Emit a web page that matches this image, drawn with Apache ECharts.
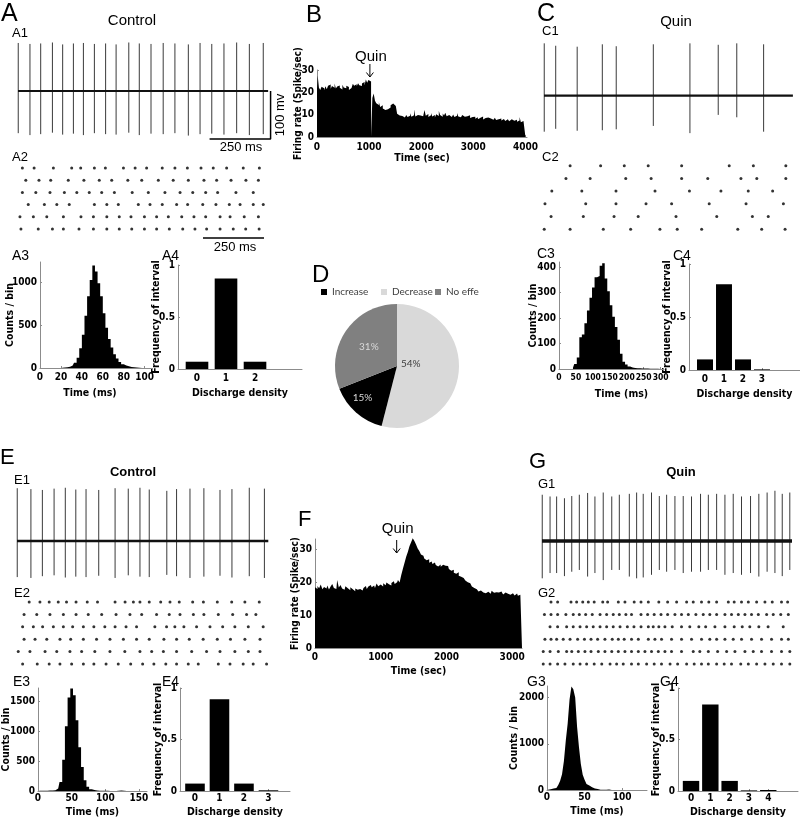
<!DOCTYPE html>
<html><head><meta charset="utf-8">
<script src="https://cdn.jsdelivr.net/npm/echarts@6/dist/echarts.min.js"></script>
<style>html,body{margin:0;padding:0;background:#fff}#c{width:800px;height:821px}</style>
</head><body><div id="c"></div>
<script>
// ================= DATA =================
// A1 (Control) spike train, ms / mV
const a1SpikeMs   = [1,49,93,141,183,227,268,313,359,402,454,497,545,595,643,698,746,794,844,896,948,1005];
const a1SpikeUp   = [100,98,99,101,97,99,100,98,99,97,101,99,98,100,99,97,100,98,99,101,98,100];
const a1SpikeDown = [88,92,90,87,91,89,92,88,90,91,87,92,89,90,88,93,90,89,91,88,92,90];
const a1SpanMs = 1025;
const scaleBarMs = 250, scaleBarMv = 100;
const a1ScaleBarStartMs = 785, a2ScaleBarStartMs = 758, a2ScaleBarRow = 6.74;
// A2 raster (ms)
const a2Rows = [
  [18,66,145,220,257,313,358,432,480,527,591,643,694,750,800,855,923,989],
  [32,86,134,206,270,333,384,450,507,575,636,698,762,814,873,934,985],
  [18,73,131,190,241,292,343,395,468,534,602,664,716,769,818,893,964],
  [42,108,159,210,313,364,411,493,541,591,650,695,757,811,866,910,964,1005],
  [8,63,118,186,258,309,364,415,463,518,568,616,671,721,769,828,869,927,985],
  [12,83,141,186,250,309,364,415,466,518,568,620,675,725,773,828,882,933,988]
];
// A3 ISI histogram
const a3BinStart = 20, a3BinWidth = 2.5;
const a3Counts = [3,5,8,15,30,60,120,230,390,610,840,1030,1200,1130,990,840,640,470,340,240,160,110,70,45,30,20,12,8,5,3,2,1];
const a3XTicks = [0,20,40,60,80,100], a3YTicks = [0,500,1000];
// A4 discharge density
const a4Cats = [0,1,2], a4Vals = [0.07,0.87,0.07];
const freqTicks = [0,0.5,1];
// B firing rate (25 s bins)
const bBinSec = 25;
const bRate = [21.5,27.5,22.0,21.0,22.5,21.8,20.9,22.7,21.4,22.9,23.5,21.6,22.8,22.1,23.9,21.7,22.6,23.1,22.0,21.3,
  23.4,22.2,21.8,22.9,22.4,21.1,21.9,22.5,23.8,22.9,23.6,22.7,24.1,23.2,22.8,23.9,24.6,23.1,25.8,24.3,
  25.5,24.8,0,17.5,19.5,16.2,15.1,14.3,15.6,13.4,14.2,12.8,12.1,11.6,12.4,11.9,13.2,14.2,15.0,15.6,15.3,13.9,
  10.4,9.6,8.9,9.4,9.9,8.7,9.3,
  9.8,8.9,9.5,10.6,9.1,9.7,12.3,9.2,9.9,10.4,9.6,
  10.1,9.3,8.8,12.1,9.5,10.3,9.0,9.7,10.8,9.2,9.9,8.7,10.2,9.4,11.6,9.8,9.1,10.5,9.6,10.9,
  9.3,9.8,10.4,9.0,9.6,10.1,8.9,9.5,10.7,9.2,9.4,8.8,9.9,9.1,8.6,9.3,8.9,9.7,8.5,9.0,
  8.4,9.1,8.2,8.8,7.9,8.6,8.3,9.2,7.8,8.5,8.1,8.7,7.9,8.3,8.9,7.7,8.2,8.6,7.6,8.0,
  7.8,8.3,7.4,8.1,7.6,7.2,8.0,7.5,7.1,7.9,8.6,7.3,7.0,7.7,6.8,7.4,8.9,6.6,7.2,6.4,6.9];
const bQuinSec = 1015;
const rateYTicks = [0,10,20,30], bXTicks = [0,1000,2000,3000,4000];
// C1 (Quin) spike train
const c1SpikeMs   = [1,48,136,239,296,448,598,714,790,900];
const c1SpikeUp   = [109,104,102,107,103,107,109,106,109,107];
const c1SpikeDown = [75,69,73,72,70,63,78,40,45,75];
const c1SpanMs = 1020;
const c2Rows = [
  [107,232,329,427,564,759,858,991],
  [90,189,335,439,564,671,807,872,991],
  [32,155,295,455,596,725,837,937],
  [4,171,295,418,523,677,828,981],
  [29,161,287,386,541,708,854,919],
  [1,107,243,355,475,546,646,794,892,988]
];
const c3BinStart = 37.5, c3BinWidth = 7.5;
const c3Counts = [5,20,45,125,135,180,230,280,320,360,365,405,415,355,305,250,205,165,115,60,28,18,10,6,4,3,3,2,2,2,1,1,1,1,1,1];
const c3XTicks = [0,50,100,150,200,250,300], c3YTicks = [0,100,200,300,400];
const c4Cats = [0,1,2,3], c4Vals = [0.10,0.81,0.10,0.006];
// D pie
const pieNames = ['Decrease','Increase','No effe'];
const pieValues = [54,15,31];
const legendOrder = ['Increase','Decrease','No effe'];
// E (Control)
const e1SpikeMs   = [1,57,104,152,198,241,283,335,402,456,504,542,614,654,709,766,832,881,952,1014];
const e1SpikeUp   = [120,118,116,119,121,117,118,116,120,119,121,117,114,118,119,120,116,118,121,119];
const e1SpikeDown = [82,84,80,78,83,81,82,79,84,78,81,82,77,80,84,81,79,83,80,84];
const e1SpanMs = 1030;
const e2Rows = [
  [50,94,132,169,203,242,288,330,402,443,477,504,542,589,627,665,720,764,821,880,934,993],
  [29,81,135,190,242,292,347,406,463,511,572,624,668,723,766,825,884,941,979],
  [23,67,105,149,190,228,272,315,360,402,447,490,565,613,647,684,736,791,843,893,948,1009],
  [29,74,122,176,220,272,326,381,436,490,542,602,654,706,763,821,875,934,996],
  [5,53,115,163,217,265,319,381,442,504,552,600,654,716,777,832,893,948,996],
  [23,83,132,176,224,272,315,365,415,466,515,561,610,654,702,743,825,873,927,968,1023]
];
const e3BinStart = 0, e3BinWidth = 4;
const e3Counts = [3,4,5,6,8,10,14,40,150,520,1080,1560,1710,1600,1180,730,400,180,70,30,15,8,5,4,3,3,2,2,2,3,9,3,1,1,1,1,1,1,0,0];
const e3XTicks = [0,50,100,150], e3YTicks = [0,500,1000,1500];
const e4Cats = [0,1,2,3], e4Vals = [0.072,0.89,0.072,0.007];
// F firing rate (25 s bins)
const fBinSec = 25;
const fRate = [18.4,17.9,18.8,18.1,19.2,17.8,18.5,18.0,18.9,17.7,
  18.6,19.4,18.2,17.9,20.6,18.3,19.1,18.0,17.6,18.7,
  18.1,17.5,18.4,17.8,17.2,18.0,17.6,17.9,18.3,17.4,
  18.2,18.8,17.9,18.6,19.1,18.4,18.9,18.2,19.5,18.7,
  19.2,18.6,19.6,19.0,19.8,19.3,18.9,19.7,20.2,19.4,
  19.9,20.6,19.8,22.1,24.0,25.8,27.6,29.1,30.8,32.0,
  33.2,32.4,31.3,30.1,29.4,28.3,27.9,27.1,26.6,26.9,
  25.8,26.2,25.4,25.9,25.1,24.7,25.3,24.6,25.2,24.9,
  24.3,24.8,23.9,23.4,23.7,22.8,22.5,22.9,21.9,21.6,
  21.2,20.8,20.4,19.9,19.6,19.0,18.6,18.2,17.8,17.5,
  17.1,17.4,16.8,17.2,16.6,17.0,16.9,16.4,17.3,16.7,
  16.9,16.3,16.8,17.1,16.5,16.2,16.8,16.4,16.9,16.1,
  16.6,16.2,15.9,16.5,15.8,16.1,15.7];
const fQuinSec = 1243;
const fXTicks = [0,1000,2000,3000];
// G (Quin)
const g1SpikeMs   = [1,33,60,92,122,153,187,217,251,286,317,358,388,415,449,481,511,545,579,613,650,682,716,750,784,818,855,889,923,955,985,1016];
const g1SpikeUp   = [105,101,101,97,102,105,109,101,110,101,105,107,110,107,110,102,105,102,102,101,107,105,107,105,107,101,102,107,110,114,107,110];
const g1SpikeDown = [85,73,73,80,70,66,81,73,89,66,66,81,85,83,77,66,70,66,73,70,70,66,66,77,73,77,73,81,70,73,80,66];
const g1SpanMs = 1025;
const g2Rows = [
  [37,64,119,142,167,190,214,249,269,313,340,378,406,436,479,515,552,593,620,654,684,716,764,788,818,846,880,914,944,982,1007],
  [10,37,64,98,128,153,179,206,238,265,292,317,344,367,406,433,460,488,515,545,572,600,631,661,688,716,750,777,805,832,859,887,921,948,979,1010],
  [33,64,101,128,156,183,210,238,265,292,320,350,377,406,436,456,479,504,534,572,606,643,671,709,750,788,821,852,889,927,989],
  [12,37,60,87,115,146,174,201,228,258,288,313,337,367,395,436,463,490,531,572,613,654,688,716,750,784,818,859,900,941,982,1010],
  [5,33,67,101,122,149,176,201,231,258,286,313,340,367,395,422,449,477,504,531,572,620,647,682,720,757,791,832,866,900,941,982,1016],
  [5,33,64,94,128,156,183,214,245,279,306,333,367,395,429,460,490,525,556,593,624,654,682,716,747,777,815,846,880,914,948,982,1016]
];
const g3BinStart = 0, g3BinWidth = 2.5;
const g3Counts = [5,15,25,35,45,60,110,200,340,630,1070,1440,1960,2240,2180,2000,1370,930,560,330,220,130,100,60,40,30,20,12,8,6,5,4,10,3,2,2,2,1,1,1,1,1,1,1,1,1,1,1,1,1,1,1,1];
const g3XTicks = [0,50,100], g3YTicks = [0,1000,2000];
const g4Cats = [0,1,2,3,4], g4Vals = [0.098,0.84,0.098,0.006,0.01];

// ================= BUILD =================
const NARROW = "'Liberation Sans Narrow','Arial Narrow','DejaVu Sans Condensed',sans-serif";
const SANS = "'Liberation Sans',Arial,Helvetica,sans-serif";
const grids = [], xAxes = [], yAxes = [], series = [];
function addGrid(g, xa, ya) {
  grids.push(Object.assign({containLabel:false}, g));
  const i = grids.length - 1;
  xAxes.push(Object.assign({gridIndex:i}, xa));
  yAxes.push(Object.assign({gridIndex:i}, ya));
  return i;
}
function hidden(min, max, inverse) { return {type:'value', min, max, show:false, inverse:!!inverse}; }
function axisV(min, max, ticks, extra, lab, nts) {
  return Object.assign({
    type:'value', min, max,
    axisLine:{show:true, onZero:false, lineStyle:{color:'#8c8c8c', width:1}},
    axisTick:{show:true, inside:true, length:2, customValues:ticks, lineStyle:{color:'#8c8c8c'}},
    axisLabel:Object.assign({show:true, customValues:ticks, formatter:v=>String(v), margin:3, color:'#000',
               fontFamily:NARROW, fontWeight:'bold', fontSize:10}, lab || {}),
    splitLine:{show:false},
    nameLocation:'middle', nameMoveOverlap:false,
    nameTextStyle:Object.assign({color:'#000', fontFamily:NARROW, fontWeight:'bold', fontSize:10.5}, nts || {})
  }, extra || {});
}
function traceSeries(gi, times, up, down, span, baseWidth) {
  series.push({type:'line', xAxisIndex:gi, yAxisIndex:gi, silent:true, symbol:'none',
    data:[[0,0],[span,0]], lineStyle:{color:'#111', width:baseWidth}});
  series.push({type:'custom', xAxisIndex:gi, yAxisIndex:gi, silent:true,
    data: times.map((t,k)=>[t, up[k], down[k]]),
    renderItem(p, api) {
      const a = api.coord([api.value(0), api.value(1)]);
      const b = api.coord([api.value(0), -api.value(2)]);
      return {type:'line', shape:{x1:a[0], y1:a[1], x2:b[0], y2:b[1]}, style:{stroke:'#3a3a3a', lineWidth:1}};
    }});
}
function rasterSeries(gi, rows) {
  const pts = [];
  rows.forEach((row, r) => row.forEach(t => pts.push([t, r + 1])));
  series.push({type:'scatter', xAxisIndex:gi, yAxisIndex:gi, silent:true, symbol:'circle', symbolSize:3,
    itemStyle:{color:'#000'}, data:pts});
}
function histSeries(gi, start, width, counts) {
  series.push({type:'line', xAxisIndex:gi, yAxisIndex:gi, silent:true, symbol:'none', step:'middle',
    data: counts.map((v,k)=>[start + (k + 0.5) * width, v]),
    lineStyle:{opacity:0}, areaStyle:{color:'#000', opacity:1}});
}
function barSeries(gi, cats, vals, w) {
  series.push({type:'custom', xAxisIndex:gi, yAxisIndex:gi, silent:true,
    data: cats.map((c,k)=>[c, vals[k]]),
    renderItem(p, api) {
      const x = api.value(0), y = api.value(1);
      const a = api.coord([x - w/2, y]), b = api.coord([x + w/2, 0]);
      return {type:'rect', shape:{x:a[0], y:a[1], width:b[0]-a[0], height:Math.max(b[1]-a[1], 0.6)}, style:{fill:'#000'}};
    }});
}

// ---- A ----
const gA1 = addGrid({left:18, top:40.1, width:253.8, height:99.8}, hidden(0,1040), hidden(-102,106));
traceSeries(gA1, a1SpikeMs, a1SpikeUp, a1SpikeDown, a1SpanMs, 2);
series.push({type:'line', xAxisIndex:gA1, yAxisIndex:gA1, silent:true, symbol:'none',
  data:[[a1ScaleBarStartMs,-scaleBarMv],[a1ScaleBarStartMs+scaleBarMs,-scaleBarMv],[a1ScaleBarStartMs+scaleBarMs,0]],
  lineStyle:{color:'#000', width:1.5}});
const gA2 = addGrid({left:18, top:155.8, width:253.8, height:85.4}, hidden(0,1040), hidden(0,7,true));
rasterSeries(gA2, a2Rows);
series.push({type:'line', xAxisIndex:gA2, yAxisIndex:gA2, silent:true, symbol:'none',
  data:[[a2ScaleBarStartMs,a2ScaleBarRow],[a2ScaleBarStartMs+scaleBarMs,a2ScaleBarRow]], lineStyle:{color:'#000', width:1.5}});
const gA3 = addGrid({left:40, top:262, width:112, height:106},
  axisV(0,107,a3XTicks,{name:'Time (ms)', nameGap:20},{margin:4},{padding:[0,12,0,0]}),
  axisV(0,1240,a3YTicks,{name:'Counts / bin', nameGap:24}));
histSeries(gA3, a3BinStart, a3BinWidth, a3Counts);
const gA4 = addGrid({left:178, top:265, width:124, height:104},
  axisV(-0.655,3.62,a4Cats,{name:'Discharge density', nameGap:19},{margin:4}),
  axisV(0,1,freqTicks,{name:'Frequency of interval', nameGap:16}));
barSeries(gA4, a4Cats, a4Vals, 0.78);

// ---- B ----
const gB = addGrid({left:317, top:70, width:210, height:67},
  axisV(0,4030,bXTicks,{name:'Time (sec)', nameGap:16},{margin:5}),
  axisV(0,30,rateYTicks,{name:'Firing rate (Spike/sec)', nameGap:14},null,{fontSize:10}));
series.push({type:'line', xAxisIndex:gB, yAxisIndex:gB, silent:true, symbol:'none', step:'middle',
  data: bRate.map((v,k)=>[k*bBinSec, v]), lineStyle:{opacity:0}, areaStyle:{color:'#000', opacity:1}});

// ---- C ----
const gC1 = addGrid({left:544, top:41.9, width:248.9, height:92.2}, hidden(0,1020), hidden(-80,112));
traceSeries(gC1, c1SpikeMs, c1SpikeUp, c1SpikeDown, c1SpanMs, 2.2);
const gC2 = addGrid({left:544, top:153, width:248.9, height:88.9}, hidden(0,1020), hidden(0,7,true));
rasterSeries(gC2, c2Rows);
const gC3 = addGrid({left:559, top:262, width:105, height:107},
  axisV(0,310,c3XTicks,{name:'Time (ms)', nameGap:20},{margin:4, fontSize:8.5},{padding:[0,0,0,20]}),
  axisV(0,420,c3YTicks,{name:'Counts / bin', nameGap:20}));
histSeries(gC3, c3BinStart, c3BinWidth, c3Counts);
const gC4 = addGrid({left:689, top:264, width:111, height:106},
  axisV(-0.842,5.0,c4Cats,{name:'Discharge density', nameGap:19},{margin:4}),
  axisV(0,1,freqTicks,{name:'Frequency of interval', nameGap:16}));
barSeries(gC4, c4Cats, c4Vals, 0.84);

// ---- E ----
const gE1 = addGrid({left:17, top:486, width:251.3, height:94.6}, hidden(0,1030), hidden(-90,125));
traceSeries(gE1, e1SpikeMs, e1SpikeUp, e1SpikeDown, e1SpanMs, 2.4);
const gE2 = addGrid({left:17, top:589.6, width:251.3, height:86.8}, hidden(0,1030), hidden(0,7,true));
rasterSeries(gE2, e2Rows);
const gE3 = addGrid({left:38, top:688, width:109, height:103},
  axisV(0,162,e3XTicks,{name:'Time (ms)', nameGap:16},{margin:2}),
  axisV(0,1720,e3YTicks,{name:'Counts / bin', nameGap:26}));
histSeries(gE3, e3BinStart, e3BinWidth, e3Counts);
const gE4 = addGrid({left:180, top:688, width:110, height:103},
  axisV(-0.612,3.88,e4Cats,{name:'Discharge density', nameGap:16},{margin:2}),
  axisV(0,1,freqTicks,{name:'Frequency of interval', nameGap:16}));
barSeries(gE4, e4Cats, e4Vals, 0.8);

// ---- F ----
const gF = addGrid({left:315, top:539, width:207, height:109},
  axisV(0,3150,fXTicks,{name:'Time (sec)', nameGap:18},{margin:4}),
  axisV(0,33,rateYTicks,{name:'Firing rate (Spike/sec)', nameGap:15},null,{fontSize:10}));
series.push({type:'line', xAxisIndex:gF, yAxisIndex:gF, silent:true, symbol:'none', step:'middle',
  data: fRate.map((v,k)=>[k*fBinSec, v]), lineStyle:{opacity:0}, areaStyle:{color:'#000', opacity:1}});

// ---- G ----
const gG1 = addGrid({left:542, top:489, width:250, height:92.4}, hidden(0,1025), hidden(-92,118));
traceSeries(gG1, g1SpikeMs, g1SpikeUp, g1SpikeDown, g1SpanMs, 3.5);
const gG2 = addGrid({left:542, top:589.6, width:250, height:86.8}, hidden(0,1025), hidden(0,7,true));
rasterSeries(gG2, g2Rows);
const gG3 = addGrid({left:547, top:686, width:100, height:104},
  axisV(0,133,g3XTicks,{name:'Time (ms)', nameGap:16},{margin:2}),
  axisV(0,2250,g3YTicks,{name:'Counts / bin', nameGap:27}));
histSeries(gG3, g3BinStart, g3BinWidth, g3Counts);
const gG4 = addGrid({left:678, top:688, width:120, height:103},
  axisV(-0.674,5.54,g4Cats,{name:'Discharge density', nameGap:16},{margin:2}),
  axisV(0,1,freqTicks,{name:'Frequency of interval', nameGap:16}));
barSeries(gG4, g4Cats, g4Vals, 0.85);

// ---- D pie ----
const pieColors = {'Decrease':'#d9d9d9','Increase':'#000000','No effe':'#808080'};
const pieLabelColors = {'Decrease':'#404040','Increase':'#d9d9d9','No effe':'#d9d9d9'};
series.push({type:'pie', center:[397,366], radius:62, startAngle:90, clockwise:true, silent:true,
  data: pieNames.map((n,k)=>({name:n, value:pieValues[k], itemStyle:{color:pieColors[n]}, label:{color:pieLabelColors[n]}})),
  label:{show:true, position:'inside', formatter:p=>p.value+'%', fontSize:10, fontFamily:"Lato,'Open Sans',sans-serif"},
  labelLine:{show:false},
  labelLayout(p){ if (p.dataIndex===0) return {dx:-10, dy:-3}; if (p.dataIndex===1) return {dx:-6, dy:3}; return {}; }
});
const legendCommon = {orient:'horizontal', itemWidth:6, itemHeight:6, icon:'rect', padding:0, selectedMode:false,
  textStyle:{fontSize:10, fontFamily:"Lato,'Open Sans',sans-serif", color:'#404040'}};
const legendLeft = [321, 381, 435];
const legends = legendOrder.map((n,k)=>Object.assign({data:[n], left:legendLeft[k], top:287}, legendCommon));

const chart = echarts.init(document.getElementById('c'), null, {renderer:'canvas'});
chart.setOption({animation:false, backgroundColor:'#fff', textStyle:{fontFamily:SANS},
  grid:grids, xAxis:xAxes, yAxis:yAxes, series, legend:legends});

// ---- text & annotations ----
function txt(text, x, y, size, o) {
  o = o || {};
  return {type:'text', x, y, rotation:o.rotation||0, silent:true,
    style:{text, fontSize:size, fontFamily:o.family||SANS, fontWeight:o.weight||'normal', fill:'#000',
           align:o.align||'left', verticalAlign:'middle'}};
}
function arrow(x, y1, y2) {
  return [
    {type:'line', silent:true, shape:{x1:x, y1:y1, x2:x, y2:y2}, style:{stroke:'#000', lineWidth:1}},
    {type:'polyline', silent:true, shape:{points:[[x-3.5,y2-4.5],[x,y2],[x+3.5,y2-4.5]]}, style:{stroke:'#000', lineWidth:1, fill:null}}
  ];
}
const bx = chart.convertToPixel({gridIndex:gB}, [bQuinSec, 0])[0];
const fx = chart.convertToPixel({gridIndex:gF}, [fQuinSec, 0])[0];
const C = {align:'center'};
const gfx = [
  txt('A', 1, 14, 25), txt('Control', 132, 21, 15, C), txt('A1', 12, 33, 13), txt('A2', 12, 157, 13),
  txt('A3', 12, 256, 14), txt('A4', 162, 256, 14),
  txt('250 ms', 241, 147, 13, C), txt('100 mv', 280, 115, 13, {align:'center', rotation:Math.PI/2}),
  txt('250 ms', 235, 247, 13, C),
  txt('B', 306, 15, 24), txt('Quin', bx + 1, 57, 15, C),
  txt('C', 537, 14, 25), txt('Quin', 676, 22, 15, C), txt('C1', 542, 31, 13), txt('C2', 542, 157, 13),
  txt('C3', 537, 254, 14), txt('C4', 673, 256, 14),
  txt('D', 312, 275, 24),
  txt('E', 0, 458, 22), txt('Control', 133, 472, 13, {align:'center', weight:'bold'}),
  txt('E1', 14, 480, 13), txt('E2', 14, 593, 13), txt('E3', 13, 682, 14), txt('E4', 162, 682, 14),
  txt('F', 298, 520, 22), txt('Quin', fx + 1, 529, 15, C),
  txt('G', 529, 462, 22), txt('Quin', 681, 472, 13, {align:'center', weight:'bold'}),
  txt('G1', 538, 484, 13), txt('G2', 538, 593, 13), txt('G3', 527, 682, 14), txt('G4', 660, 682, 14)
].concat(arrow(bx, 64, 77), arrow(fx, 540, 553));
chart.setOption({graphic:{elements:gfx}});
</script></body></html>
